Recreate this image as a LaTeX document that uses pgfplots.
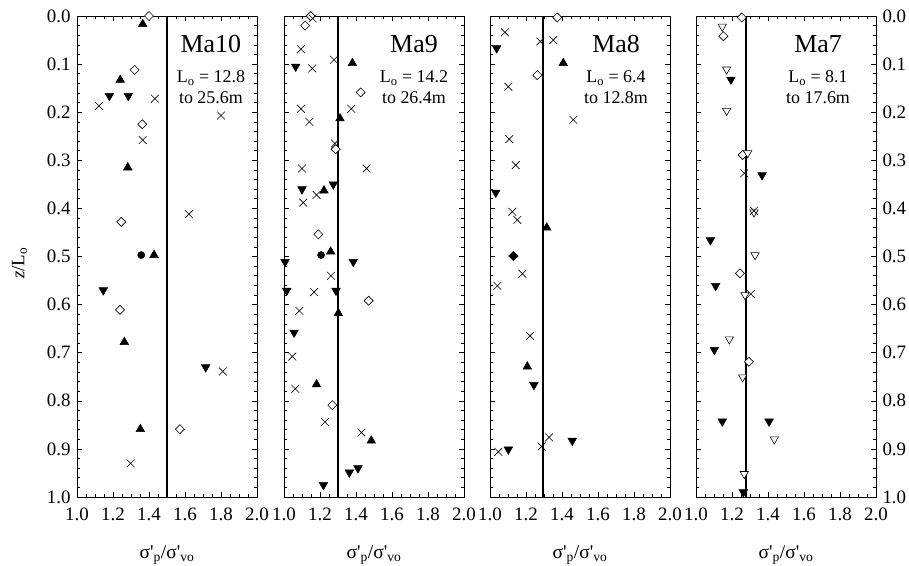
\documentclass[border=0pt]{standalone}
\usepackage{fontspec}
\setmainfont{Liberation Serif}
\usepackage{pgfplots}
\pgfplotsset{compat=1.18}
\tikzset{
  big/.style={anchor=base, font=\fontsize{26}{30}\selectfont},
  small/.style={anchor=base, font=\fontsize{18}{20}\selectfont},
}
\pgfplotsset{
  panel/.style={
    scale only axis, width=180bp, height=481bp,
    xmin=1, xmax=2, ymin=0, ymax=1, y dir=reverse,
    clip=false,
    xtick={1.0,1.2,1.4,1.6,1.8,2.0}, minor x tick num=3,
    ytick={0,0.1,0.2,0.3,0.4,0.5,0.6,0.7,0.8,0.9,1.0}, minor y tick num=4,
    tick align=inside, xtick pos=both, ytick pos=both,
    major tick length=5bp, minor tick length=3bp,
    axis line style={line width=0.8bp},
    every tick/.append style={line width=0.6bp, black},
    tick label style={font=\fontsize{19}{22}\selectfont},
    /pgf/number format/assume math mode=true,
    xticklabel style={/pgf/number format/fixed, /pgf/number format/fixed zerofill, /pgf/number format/precision=1, yshift=-7bp},
    yticklabel style={/pgf/number format/fixed, /pgf/number format/fixed zerofill, /pgf/number format/precision=1},
    xlabel={σ\textquotesingle\textsubscript{p}/σ\textquotesingle\textsubscript{vo}},
    xlabel style={font=\fontsize{19.5}{22}\selectfont, at={(axis description cs:0.5,0)}, anchor=base, yshift=-61bp},
  },
  vline/.style={black, line width=2bp, no marks},
  uptri/.style={only marks, mark=triangle*, mark size=5, mark options={fill=black, draw=black, line width=0.5bp}},
  dntri/.style={only marks, mark=triangle*, mark size=5, mark options={rotate=180, fill=black, draw=black, line width=0.5bp}},
  odntri/.style={only marks, mark=triangle*, mark size=4.8, mark options={rotate=180, fill=white, draw=black, line width=0.6bp}},
  odiam/.style={only marks, mark=square*, mark size=3.2, mark options={rotate=45, fill=white, draw=black, line width=0.6bp}},
  fdiam/.style={only marks, mark=square*, mark size=3.4, mark options={rotate=45, fill=black, draw=black}},
  cross/.style={only marks, mark=x, mark size=5.5, mark options={draw=black, line width=0.6bp}},
  fcirc/.style={only marks, mark=*, mark size=3.6, mark options={fill=black, draw=black}},
}
\begin{document}
\begin{tikzpicture}
\useasboundingbox (0,0) rectangle (909bp,566bp);
% ---------------- Ma10 ----------------
\begin{axis}[panel, at={(77bp,69bp)}, anchor=south west,
  ylabel={\textit{z}/L\textsubscript{o}},
  ylabel style={font=\fontsize{19}{22}\selectfont, at={(axis description cs:-0.32,0.486)}, anchor=center},
  yticklabel style={xshift=-3bp}]
\addplot[vline] coordinates {(1.5,0) (1.5,1)};
\addplot[odiam] coordinates {(1.40,0.0) (1.32,0.112) (1.363,0.225) (1.246,0.428) (1.239,0.611) (1.572,0.859)};
\addplot[uptri] coordinates {(1.365,0.017) (1.24,0.133) (1.282,0.315) (1.428,0.497) (1.263,0.678) (1.352,0.859)};
\addplot[dntri] coordinates {(1.18,0.166) (1.285,0.166) (1.146,0.57) (1.715,0.730)};
\addplot[cross] coordinates {(1.433,0.172) (1.122,0.187) (1.80,0.207) (1.365,0.258) (1.622,0.412) (1.81,0.739) (1.298,0.930)};
\addplot[fcirc] coordinates {(1.357,0.497)};
\node[big] at (axis cs:1.744,0.075) {Ma10};
\node[small] at (axis cs:1.744,0.139) {L\textsubscript{o} = 12.8};
\node[small] at (axis cs:1.744,0.181) {to 25.6m};
\end{axis}
% ---------------- Ma9 ----------------
\begin{axis}[panel, at={(284bp,69bp)}, anchor=south west, yticklabels={}]
\addplot[vline] coordinates {(1.3,0) (1.3,1)};
\addplot[odiam] coordinates {(1.148,0.0) (1.117,0.02) (1.426,0.159) (1.287,0.277) (1.191,0.454) (1.47,0.592) (1.269,0.809)};
\addplot[cross] coordinates {(1.159,0.005) (1.094,0.069) (1.157,0.109) (1.278,0.091) (1.094,0.193) (1.374,0.193) (1.141,0.220) (1.283,0.265) (1.1,0.317) (1.459,0.317) (1.181,0.372) (1.107,0.388) (1.261,0.54) (1.167,0.574) (1.085,0.613) (1.046,0.708) (1.063,0.775) (1.228,0.844) (1.43,0.866)};
\addplot[uptri] coordinates {(1.38,0.098) (1.311,0.213) (1.222,0.363) (1.259,0.49) (1.302,0.618) (1.181,0.766) (1.485,0.883)};
\addplot[dntri] coordinates {(1.065,0.105) (1.10,0.36) (1.274,0.35) (1.006,0.511) (1.385,0.511) (1.015,0.571) (1.289,0.571) (1.056,0.658) (1.411,0.940) (1.363,0.949) (1.219,0.975)};
\addplot[fcirc] coordinates {(1.206,0.497)};
\node[big] at (axis cs:1.722,0.075) {Ma9};
\node[small] at (axis cs:1.722,0.139) {L\textsubscript{o} = 14.2};
\node[small] at (axis cs:1.722,0.181) {to 26.4m};
\end{axis}
% ---------------- Ma8 ----------------
\begin{axis}[panel, at={(490bp,69bp)}, anchor=south west, yticklabels={}]
\addplot[vline] coordinates {(1.297,0) (1.297,1)};
\addplot[odiam] coordinates {(1.374,0.003) (1.263,0.123)};
\addplot[cross] coordinates {(1.083,0.034) (1.28,0.053) (1.352,0.05) (1.102,0.147) (1.463,0.216) (1.107,0.256) (1.143,0.31) (1.124,0.407) (1.152,0.424) (1.18,0.536) (1.041,0.561) (1.222,0.665) (1.328,0.876) (1.287,0.895) (1.046,0.906)};
\addplot[dntri] coordinates {(1.037,0.067) (1.032,0.367) (1.244,0.767) (1.457,0.883) (1.102,0.901)};
\addplot[uptri] coordinates {(1.407,0.098) (1.315,0.44) (1.207,0.729)};
\addplot[fdiam] coordinates {(1.13,0.499)};
\node[big] at (axis cs:1.70,0.075) {Ma8};
\node[small] at (axis cs:1.70,0.139) {L\textsubscript{o} = 6.4};
\node[small] at (axis cs:1.70,0.181) {to 12.8m};
\end{axis}
% ---------------- Ma7 ----------------
\begin{axis}[panel, at={(696bp,69bp)}, anchor=south west, yticklabel pos=right,
  yticklabel style={xshift=3bp}]
\addplot[vline] coordinates {(1.275,0) (1.275,1)};
\addplot[odiam] coordinates {(1.254,0.003) (1.152,0.042) (1.259,0.289) (1.244,0.535) (1.294,0.719)};
\addplot[odntri] coordinates {(1.146,0.022) (1.17,0.111) (1.17,0.197) (1.287,0.285) (1.322,0.408) (1.328,0.497) (1.272,0.58) (1.185,0.672) (1.259,0.751) (1.435,0.88) (1.268,0.952)};
\addplot[dntri] coordinates {(1.194,0.132) (1.367,0.331) (1.08,0.466) (1.109,0.561) (1.102,0.694) (1.146,0.843) (1.406,0.843) (1.263,0.99)};
\addplot[cross] coordinates {(1.268,0.327) (1.322,0.405) (1.304,0.578)};
\node[big] at (axis cs:1.678,0.075) {Ma7};
\node[small] at (axis cs:1.678,0.139) {L\textsubscript{o} = 8.1};
\node[small] at (axis cs:1.678,0.181) {to 17.6m};
\end{axis}
\end{tikzpicture}
\end{document}
